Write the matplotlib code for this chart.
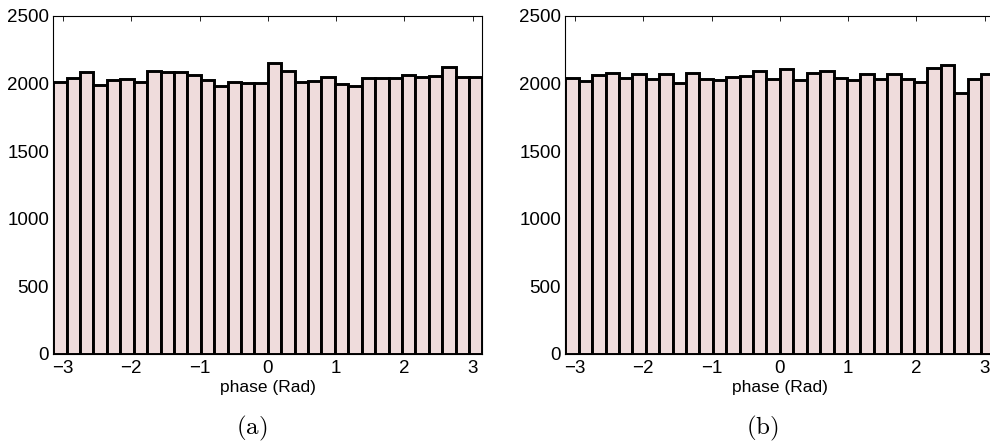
import numpy as np
import matplotlib
matplotlib.use("Agg")
import matplotlib.pyplot as plt

# histogram counts, 32 bins over [-pi, pi]
counts_a = [2014, 2039, 2083, 1992, 2024, 2034, 2014, 2093, 2083, 2083, 2061, 2024, 1982, 2012, 2004, 2004,
            2153, 2091, 2012, 2017, 2049, 1999, 1982, 2044, 2041, 2044, 2066, 2049, 2059, 2123, 2046, 2046]
counts_b = [2044, 2022, 2066, 2078, 2039, 2071, 2032, 2071, 2004, 2081, 2034, 2029, 2049, 2059, 2096, 2031,
            2106, 2024, 2076, 2093, 2041, 2029, 2073, 2036, 2071, 2032, 2014, 2113, 2140, 1933, 2032, 2069]
panel_labels = ["(a)", "(b)"]
x_ticks = [-3, -2, -1, 0, 1, 2, 3]
y_ticks = [0, 500, 1000, 1500, 2000, 2500]

plt.rcParams['font.family'] = ['Liberation Sans', 'DejaVu Sans']
plt.rcParams['mathtext.fontset'] = 'cm'

face = '#efdcdc'
fig = plt.figure(figsize=(9.9, 4.46), dpi=100)

# axes placement (right panel runs past the figure edge like the original crop)
positions = [[0.0538, 0.2063, 0.4335, 0.758], [0.571, 0.2063, 0.4335, 0.758]]
label_x = [252 / 990, 762 / 990]

for counts, pos, lab, lx in zip([counts_a, counts_b], positions, panel_labels, label_x):
    ax = fig.add_axes(pos)
    edges = np.linspace(-np.pi, np.pi, len(counts) + 1)
    ax.bar(edges[:-1], counts, width=np.diff(edges), align='edge',
           color=face, edgecolor='black', linewidth=2.1)
    ax.set_xlim(-np.pi, np.pi)
    ax.set_ylim(0, 2500)
    ax.set_xticks(x_ticks)
    ax.set_yticks(y_ticks)
    ax.set_axisbelow(True)
    ax.tick_params(direction='in', top=True, right=True, length=3.3, width=0.6,
                   labelsize=13.5, pad=3)
    ax.tick_params(axis='x', pad=4)
    for s in ax.spines.values():
        s.set_linewidth(0.8)
    ax.set_xlabel("phase (Rad)", fontsize=12.5, labelpad=2.5)
    fig.text(lx, 1 - 428 / 446, r'$\mathrm{' + lab + '}$', fontsize=18,
             ha='center', va='center')

plt.savefig("out.png", dpi=100)
